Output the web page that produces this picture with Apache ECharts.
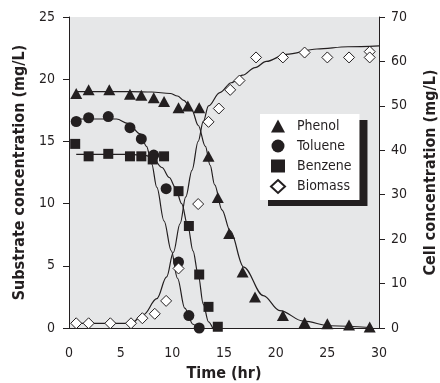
<!DOCTYPE html>
<html>
<head>
<meta charset="utf-8">
<script src="https://cdn.jsdelivr.net/npm/echarts@6/dist/echarts.min.js"></script>
<style>
  html, body { margin: 0; padding: 0; background: #fff; }
  #chart { width: 440px; height: 383px; }
</style>
</head>
<body>
<div id="chart"></div>
<script>
// measured points [time (hr), concentration]
const phenol = [[0.7, 18.85], [1.9, 19.15], [3.9, 19.15], [5.9, 18.8], [7.0, 18.7], [8.2, 18.5], [9.2, 18.2],
  [10.6, 17.7], [11.5, 17.85], [12.6, 17.7], [13.5, 13.8], [14.4, 10.5], [15.5, 7.6], [16.8, 4.5],
  [18.0, 2.5], [20.7, 1.0], [22.8, 0.45], [25.0, 0.35], [27.1, 0.24], [29.1, 0.08]]
const toluene = [[0.7, 16.6], [1.9, 16.9], [3.8, 17.0], [5.9, 16.1], [7.0, 15.2], [8.2, 13.9], [9.4, 11.2],
  [10.6, 5.3], [11.6, 1.0], [12.6, 0.0]]
const benzene = [[0.6, 14.8], [1.9, 13.8], [3.8, 14.0], [5.9, 13.8], [7.0, 13.8], [8.1, 13.55], [9.2, 13.8],
  [10.6, 11.0], [11.6, 8.2], [12.6, 4.3], [13.5, 1.7], [14.4, 0.1]]
// biomass uses the right axis
const biomass = [[0.7, 1.06], [1.9, 1.06], [4.0, 1.06], [6.0, 1.06], [7.1, 2.2], [8.3, 3.2], [9.4, 6.1],
  [10.6, 13.4], [12.5, 27.9], [13.5, 46.4], [14.5, 49.4], [15.6, 53.6], [16.5, 55.7], [18.1, 60.9],
  [20.7, 60.9], [22.8, 62.0], [25.0, 60.9], [27.1, 60.9], [29.1, 62.2], [29.1, 60.9]]

// fitted curves
const phenolFit = [[0.7, 19.0], [4, 19.0], [6, 19.0], [8, 18.97], [9.8, 18.85], [10.5, 18.65], [11.1, 18.3],
  [11.9, 17.5], [12.5, 16.3], [13.2, 14.6], [13.65, 13.1], [14.1, 11.5], [14.8, 9.5], [15.6, 7.8],
  [16.9, 4.9], [18.8, 2.6], [20.4, 1.4], [22.7, 0.55], [25.3, 0.18], [29.1, 0.04]]
const tolueneFit = [[0.7, 16.8], [4.6, 16.8], [5.7, 16.45], [6.9, 15.6], [7.5, 14.6], [8.0, 13.2],
  [8.5, 11.3], [9.2, 8.6], [9.9, 6.2], [10.5, 4.0], [11.2, 1.6], [12.0, 0.3], [12.4, 0]]
const benzeneFit = [[0.7, 13.95], [6, 13.95], [7.5, 13.85], [8.2, 13.55], [9.0, 12.9], [9.7, 12.1],
  [10.3, 11.3], [10.9, 10.0], [11.5, 8.2], [12.0, 6.2], [12.5, 4.3], [13.0, 1.9], [13.5, 0.5], [13.9, 0]]
const biomassFit = [[0.7, 1.06], [6.0, 1.06], [7.2, 3.0], [8.5, 6.6], [9.45, 11.5], [10.1, 17.0],
  [10.75, 23.5], [11.3, 29.5], [11.9, 35.5], [12.5, 42.0], [13.0, 46.5], [13.5, 50.0], [14.6, 53.0],
  [15.7, 55.2], [16.8, 56.9], [18, 58.6], [19.1, 60.0], [21, 61.6], [24, 62.8], [27, 63.3], [30, 63.5]]

const legendNames = ['Phenol', 'Toluene', 'Benzene', 'Biomass']
const xRange = [0, 30, 5]
const leftRange = [0, 25, 5]
const rightRange = [0, 70, 10]

const ink = '#231f20'
const narrow = '"Liberation Sans Narrow", "DejaVu Sans Condensed", "Liberation Sans", sans-serif'

const chart = echarts.init(document.getElementById('chart'))

function fitLine(data, yIndex) {
  return {
    type: 'line',
    data: data,
    yAxisIndex: yIndex,
    showSymbol: false,
    smooth: 0.35,
    smoothMonotone: 'x',
    silent: true,
    z: 2,
    lineStyle: { color: ink, width: 1.2 }
  }
}

const axisLabel = { color: ink, fontFamily: narrow, fontSize: 14 }
const axisName = { color: ink, fontFamily: narrow, fontSize: 16, fontWeight: 'bold' }

const option = {
  animation: false,
  backgroundColor: '#fff',
  grid: {
    left: 69, right: 61, top: 17, bottom: 55,
    outerBoundsMode: 'none',
    show: true, backgroundColor: '#e6e7e8', borderWidth: 0
  },
  legend: {
    data: legendNames,
    orient: 'vertical',
    left: 260, top: 114,
    padding: [5, 8, 6, 10],
    itemGap: 6,
    itemWidth: 14, itemHeight: 13,
    backgroundColor: '#fff',
    shadowColor: ink, shadowBlur: 0, shadowOffsetX: 8, shadowOffsetY: 6,
    selectedMode: false,
    textStyle: { color: ink, fontFamily: narrow, fontSize: 14, lineHeight: 13, padding: [0, 0, 0, 7] }
  },
  xAxis: {
    type: 'value',
    min: xRange[0], max: xRange[1], interval: xRange[2],
    name: 'Time (hr)', nameLocation: 'middle', nameGap: 38, nameTextStyle: axisName,
    axisLine: { show: true, lineStyle: { color: ink, width: 1 } },
    axisTick: { show: false },
    axisLabel: Object.assign({ margin: 18 }, axisLabel),
    splitLine: { show: false }
  },
  yAxis: [
    {
      type: 'value', position: 'left',
      min: leftRange[0], max: leftRange[1], interval: leftRange[2],
      name: 'Substrate concentration (mg/L)', nameLocation: 'middle', nameRotate: 90, nameGap: 35,
      nameTextStyle: axisName,
      axisLine: { show: true, lineStyle: { color: ink, width: 1 } },
      axisTick: { show: true, length: 6, lineStyle: { color: ink } },
      axisLabel: Object.assign({ margin: 14 }, axisLabel),
      splitLine: { show: false }
    },
    {
      type: 'value', position: 'right',
      min: rightRange[0], max: rightRange[1], interval: rightRange[2],
      name: 'Cell concentration (mg/L)', nameLocation: 'middle', nameRotate: 90, nameGap: 44,
      nameTextStyle: axisName,
      axisLine: { show: true, lineStyle: { color: ink, width: 1 } },
      axisTick: { show: true, length: 6, lineStyle: { color: ink } },
      axisLabel: Object.assign({ margin: 12 }, axisLabel),
      splitLine: { show: false }
    }
  ],
  series: [
    fitLine(phenolFit, 0),
    fitLine(tolueneFit, 0),
    fitLine(benzeneFit, 0),
    fitLine(biomassFit, 1),
    {
      name: 'Phenol', type: 'scatter', data: phenol, yAxisIndex: 0, z: 5,
      symbol: 'triangle', symbolSize: [12, 11], itemStyle: { color: ink, opacity: 1 }
    },
    {
      name: 'Toluene', type: 'scatter', data: toluene, yAxisIndex: 0, z: 5,
      symbol: 'circle', symbolSize: 11, itemStyle: { color: ink, opacity: 1 }
    },
    {
      name: 'Benzene', type: 'scatter', data: benzene, yAxisIndex: 0, z: 5,
      symbol: 'rect', symbolSize: 10, itemStyle: { color: ink, opacity: 1 }
    },
    {
      name: 'Biomass', type: 'scatter', data: biomass, yAxisIndex: 1, z: 6,
      symbol: 'diamond', symbolSize: 11,
      itemStyle: { color: '#fff', borderColor: ink, borderWidth: 1, opacity: 1 }
    }
  ]
}

chart.setOption(option)
</script>
</body>
</html>
